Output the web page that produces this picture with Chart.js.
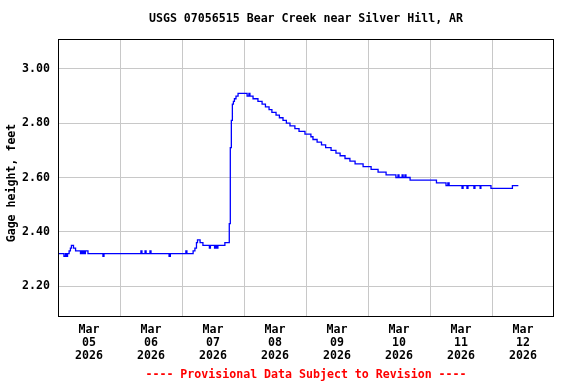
<!DOCTYPE html>
<html>
<head>
<meta charset="utf-8">
<script src="https://cdn.jsdelivr.net/npm/chart.js@4"></script>
<style>
  html, body { margin: 0; padding: 0; background: #fff; }
  #wrap { width: 576px; height: 384px; }
</style>
</head>
<body>
<div id="wrap"><canvas id="gageChart" width="576" height="384"></canvas></div>
<script>
// hours since Mar 05 2026 00:00, value holds until the next entry
const hours = [
    0.0, 2.3, 2.9, 3.3, 3.7, 4.3, 4.8, 5.2, 6.0, 6.8, 8.7, 9.1, 9.5, 9.9, 10.3, 10.6, 11.6,
    17.4, 17.8, 32.1, 32.5, 33.7, 34.1, 35.6, 36.0, 43.0, 43.5, 49.5, 49.9,
    52.3, 53.0, 53.6, 54.0, 55.0, 56.1, 58.6, 59.0, 60.6, 61.0, 61.5, 61.9, 64.6,
    66.3, 66.7, 67.1, 67.5, 67.9, 68.3, 68.9, 69.7, 73.2, 73.9, 74.3, 75.5, 77.4,
    79.0, 80.3, 81.7, 82.8, 84.4, 85.7, 87.1, 88.4, 89.8, 91.7, 93.3, 95.6, 97.9,
    98.7, 100.3, 102.0, 103.6, 105.7, 107.6, 109.2, 111.1, 113.0, 115.0, 118.1,
    121.2, 123.9, 127.0, 130.8, 131.6, 132.0, 133.2, 133.6, 134.3, 134.7, 136.3,
    146.5, 150.2, 150.9, 151.4, 156.4, 156.8, 158.3, 158.7, 161.0, 161.4, 163.4,
    163.7, 167.6, 175.9, 178.2
];
const gageHeight = [
    2.32, 2.31, 2.32, 2.31, 2.32, 2.33, 2.34, 2.35, 2.34, 2.33, 2.32, 2.33, 2.32, 2.33, 2.32, 2.33, 2.32,
    2.31, 2.32, 2.33, 2.32, 2.33, 2.32, 2.33, 2.32, 2.31, 2.32, 2.33, 2.32,
    2.33, 2.34, 2.36, 2.37, 2.36, 2.35, 2.34, 2.35, 2.34, 2.35, 2.34, 2.35, 2.36,
    2.43, 2.71, 2.81, 2.87, 2.88, 2.89, 2.90, 2.91, 2.90, 2.91, 2.90, 2.89, 2.88,
    2.87, 2.86, 2.85, 2.84, 2.83, 2.82, 2.81, 2.80, 2.79, 2.78, 2.77, 2.76, 2.75,
    2.74, 2.73, 2.72, 2.71, 2.70, 2.69, 2.68, 2.67, 2.66, 2.65, 2.64,
    2.63, 2.62, 2.61, 2.60, 2.61, 2.60, 2.61, 2.60, 2.61, 2.60, 2.59,
    2.58, 2.57, 2.58, 2.57, 2.56, 2.57, 2.56, 2.57, 2.56, 2.57, 2.56,
    2.57, 2.56, 2.57, 2.57
];
const dayLabels = ['05', '06', '07', '08', '09', '10', '11', '12'];
const yTicks = [2.20, 2.40, 2.60, 2.80, 3.00];

const FONT = { family: '"DejaVu Sans Mono", monospace', size: 11.6, weight: 'bold' };

const points = hours.map((h, i) => ({ x: h, y: gageHeight[i] }));

// title, box, y label and provisional note
const frame = {
    id: 'frame',
    afterDraw(chart) {
        const { ctx, chartArea: a } = chart;
        const cx = (a.left + a.right) / 2;
        ctx.save();
        ctx.strokeStyle = '#000';
        ctx.lineWidth = 1;
        ctx.strokeRect(a.left + 0.5, a.top + 0.5, a.right - a.left - 1, a.bottom - a.top);
        ctx.font = `bold ${FONT.size}px ${FONT.family}`;
        ctx.textAlign = 'center';
        ctx.textBaseline = 'middle';
        ctx.fillStyle = '#000';
        ctx.fillText('USGS 07056515 Bear Creek near Silver Hill, AR', cx, 19);
        ctx.save();
        ctx.translate(12, 183);
        ctx.rotate(-Math.PI / 2);
        ctx.fillText('Gage height, feet', 0, 0);
        ctx.restore();
        ctx.fillStyle = '#ff0000';
        ctx.fillText('---- Provisional Data Subject to Revision ----', cx, 375);
        ctx.restore();
    }
};

new Chart(document.getElementById('gageChart').getContext('2d'), {
    type: 'line',
    data: {
        datasets: [{
            data: points,
            borderColor: '#0000ff',
            borderWidth: 1.3,
            pointRadius: 0,
            stepped: 'before',
            fill: false,
        }]
    },
    options: {
        responsive: false,
        animation: false,
        layout: { padding: { top: 39, right: 22, left: 0, bottom: 0 } },
        plugins: {
            legend: { display: false },
            tooltip: { enabled: false },
        },
        scales: {
            x: {
                type: 'linear',
                position: 'bottom',
                min: 0,
                max: 192,
                afterBuildTicks: s => { s.ticks = [24, 48, 72, 96, 120, 144, 168].map(v => ({ value: v })); },
                afterFit: s => { s.height = 0; },
                ticks: { display: false },
                border: { display: false },
                grid: { color: '#c8c8c8', lineWidth: 1, drawTicks: false },
            },
            x2: {
                type: 'linear',
                position: 'bottom',
                min: 0,
                max: 192,
                afterBuildTicks: s => { s.ticks = dayLabels.map((d, i) => ({ value: 12 + i * 24 })); },
                afterFit: s => { s.height = 68; },
                ticks: {
                    autoSkip: false,
                    maxRotation: 0,
                    padding: 8,
                    color: '#000',
                    font: { ...FONT, lineHeight: 1.1 },
                    callback: (v, i) => ['Mar', dayLabels[i], '2026'],
                },
                border: { display: false },
                grid: { display: false, drawTicks: false },
            },
            y: {
                min: 2.09,
                max: 3.11,
                afterBuildTicks: s => { s.ticks = yTicks.map(v => ({ value: v })); },
                afterFit: s => { s.width = 58; },
                ticks: {
                    padding: 8,
                    color: '#000',
                    font: FONT,
                    callback: v => v.toFixed(2),
                },
                border: { display: false },
                grid: { color: '#c8c8c8', lineWidth: 1, drawTicks: false },
            }
        }
    },
    plugins: [frame]
});
</script>
</body>
</html>
